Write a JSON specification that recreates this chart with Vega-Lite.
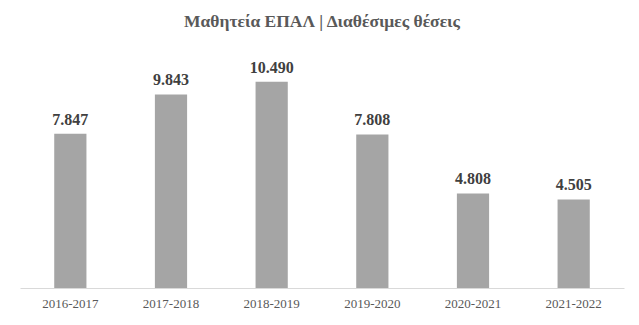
{
  "$schema": "https://vega.github.io/schema/vega-lite/v6.json",
  "autosize": "none",
  "width": 604,
  "height": 236,
  "padding": {"left": 20, "top": 52, "right": 15, "bottom": 37},
  "background": "white",
  "config": {
    "locale": {"number": {"decimal": ",", "thousands": ".", "grouping": [3], "currency": ["", "€"]}},
    "view": {"stroke": null},
    "font": "Liberation Serif"
  },
  "title": {
    "text": "Μαθητεία ΕΠΑΛ | Διαθέσιμες θέσεις",
    "font": "Liberation Serif",
    "fontSize": 17.5,
    "fontWeight": "bold",
    "color": "#595959",
    "anchor": "middle",
    "offset": 22
  },
  "data": {
    "values": [
      {"year": "2016-2017", "positions": 7847},
      {"year": "2017-2018", "positions": 9843},
      {"year": "2018-2019", "positions": 10490},
      {"year": "2019-2020", "positions": 7808},
      {"year": "2020-2021", "positions": 4808},
      {"year": "2021-2022", "positions": 4505}
    ]
  },
  "encoding": {
    "x": {
      "field": "year",
      "type": "nominal",
      "sort": null,
      "scale": {"paddingInner": 0.68, "paddingOuter": 0.34},
      "axis": {
        "title": null,
        "labelAngle": 0,
        "labelFont": "Liberation Serif",
        "labelFontSize": 13,
        "labelColor": "#595959",
        "labelPadding": 9,
        "ticks": false,
        "domainColor": "#d9d9d9",
        "domainWidth": 1
      }
    },
    "y": {
      "field": "positions",
      "type": "quantitative",
      "scale": {"domain": [0, 12000], "nice": false},
      "axis": null
    }
  },
  "layer": [
    {"mark": {"type": "bar", "color": "#a5a5a5"}},
    {
      "mark": {"type": "text", "baseline": "alphabetic", "dy": -9, "font": "Liberation Serif", "fontSize": 16, "fontWeight": "bold", "color": "#404040"},
      "encoding": {"text": {"field": "positions", "type": "quantitative", "format": ",d"}}
    }
  ]
}
